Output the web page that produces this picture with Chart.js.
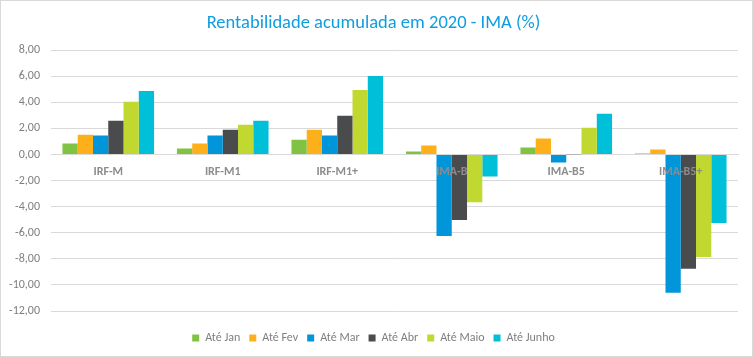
<!DOCTYPE html>
<html><head><meta charset="utf-8">
<script src="https://cdn.jsdelivr.net/npm/chart.js@4"></script>
<style>
html,body{margin:0;padding:0;background:#fff;}
#wrap{position:absolute;left:0;top:0;width:751px;height:355px;border:1px solid #d9d9d9;background:#fff;}
</style></head>
<body>
<div id="wrap"><canvas id="c"></canvas></div>
<script>
const categories = ["IRF-M", "IRF-M1", "IRF-M1+", "IMA-B", "IMA-B5", "IMA-B5+"];
const seriesNames = ["Até Jan", "Até Fev", "Até Mar", "Até Abr", "Até Maio", "Até Junho"];
const ateJan   = [0.84, 0.46, 1.14, 0.23, 0.53, 0.08];
const ateFev   = [1.52, 0.84, 1.90, 0.69, 1.22, 0.38];
const ateMar   = [1.45, 1.45, 1.45, -6.25, -0.61, -10.60];
const ateAbr   = [2.59, 1.90, 2.97, -5.03, 0.02, -8.76];
const ateMaio  = [4.04, 2.29, 4.95, -3.66, 2.06, -7.85];
const ateJunho = [4.88, 2.59, 6.02, -1.68, 3.12, -5.26];
const yMin = -12, yMax = 8, yStep = 2;
const colors = ["#80c342", "#fdb01a", "#0096d9", "#4a4b4d", "#c0d830", "#00bfd8"];
const seriesValues = [ateJan, ateFev, ateMar, ateAbr, ateMaio, ateJunho];
const FONT = 'Carlito, Lato, sans-serif';

new Chart(document.getElementById('c'), {
  type: 'bar',
  data: {
    labels: categories,
    datasets: seriesValues.map((v, i) => ({
      label: seriesNames[i], data: v, backgroundColor: colors[i],
      categoryPercentage: 0.8, barPercentage: 1.0
    }))
  },
  options: {
    responsive: true, maintainAspectRatio: false, animation: false,
    layout: { padding: { left: 8, right: 14, top: 4, bottom: 2 } },
    plugins: {
      title: { display: true, text: 'Rentabilidade acumulada em 2020 - IMA (%)', color: '#0e9ee0',
        font: { family: FONT, size: 18.5, weight: 'normal' }, padding: { top: 7, bottom: 16 } },
      legend: { position: 'bottom', labels: { boxWidth: 7, boxHeight: 7, color: '#7f7f7f',
        font: { family: FONT, size: 12 }, padding: 9 } },
      tooltip: { enabled: false }
    },
    scales: {
      y: { min: yMin, max: yMax, ticks: { stepSize: yStep, color: '#7f7f7f', padding: 11,
          font: { family: FONT, size: 12 },
          callback: v => v.toFixed(2).replace('.', ',') },
        afterFit: s => { s.width = 42; },
        grid: { color: '#d9d9d9', drawTicks: false }, border: { display: false } },
      x: { position: { y: 0 }, grid: { display: false },
        border: { display: true, color: '#d9d9d9' },
        ticks: { z: 1, color: '#8c8c8c', padding: 2, font: { family: FONT, size: 12, weight: '600' } } },
      xGap: { type: 'category', position: 'bottom', labels: categories,
        grid: { display: false }, border: { display: false }, ticks: { display: false },
        afterFit: s => { s.height = 12; } }
    }
  }
});
</script>
</body></html>
